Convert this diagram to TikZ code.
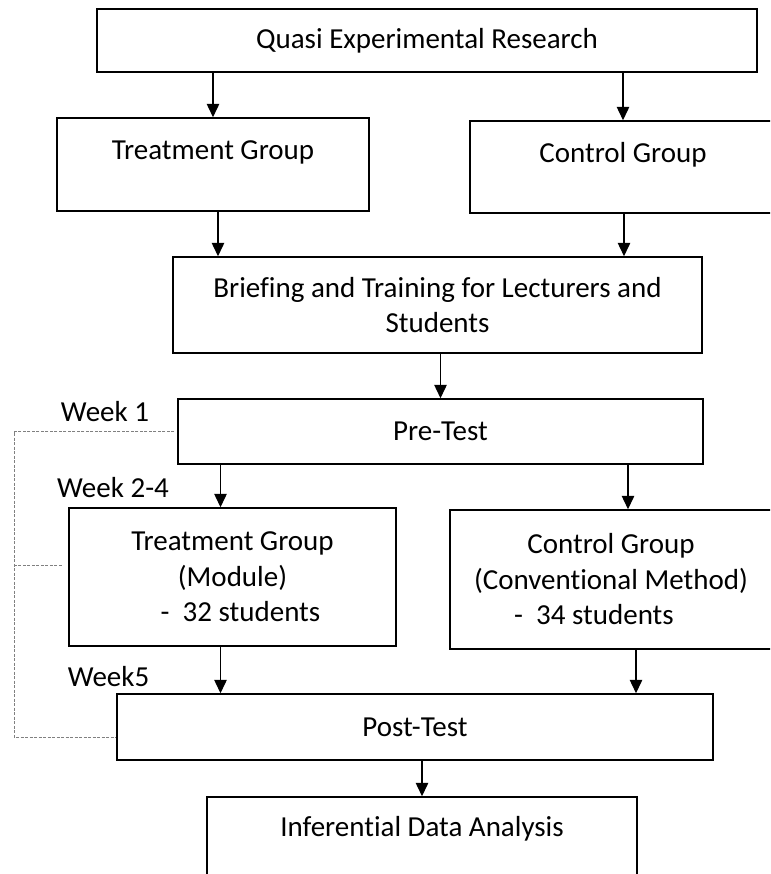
\documentclass[tikz,border=0pt]{standalone}
\usepackage{fontspec}
\setmainfont{Carlito}[Ligatures=CommonOff]
\usepackage{tikz}
\usetikzlibrary{positioning,arrows.meta,calc}

\begin{document}
\begin{tikzpicture}[x=0.02cm, y=-0.02cm, font=\fontsize{16.5}{20.2}\selectfont, box/.style={draw, line width=0.85pt, align=center, inner sep=0pt}, arrow/.style={-{Triangle[length=0.27cm, width=0.25cm]}, line width=0.8pt}, week/.style={inner sep=0pt}, dashline/.style={gray, line width=0.5pt, dash pattern=on 0.06cm off 0.03cm}]
        \clip (0,0) rectangle (770,874);
        \node[box, minimum width=13.2cm, minimum height=1.26cm] (quasi) at (427,40.5) {Quasi Experimental Research};
        \node[box, minimum width=6.24cm, minimum height=1.86cm] (treat1) at (213,164.5) {Treatment Group\\[-0.36cm] \strut};
        \node[box, minimum width=6.12cm, minimum height=1.84cm] (ctrl1) at (623,167) {Control Group\\[-0.36cm] \strut};
        \node[box, minimum width=10.58cm, minimum height=1.92cm] (brief) at (437.5,305) {Briefing and Training for Lecturers and\\ Students};
        \node[box, minimum width=10.5cm, minimum height=1.3cm] (pre) at (440.5,431.5) {Pre-Test};
        \node[box, minimum width=6.54cm, minimum height=2.76cm] (treat2) at (232.5,577) {Treatment Group\\ (Module)\\ \hspace*{0.32cm}-~~32 students};
        \node[box, minimum width=6.44cm, minimum height=2.78cm] (ctrl2) at (611,579.5) {Control Group\\ (Conventional Method)\\ \hspace*{-0.68cm}-~~34 students};
        \node[box, minimum width=11.92cm, minimum height=1.32cm] (post) at (415,727) {Post-Test};
        \node[box, minimum width=8.6cm, minimum height=1.9cm] (infer) at (422,844.5) {Inferential Data Analysis\\[-0.2cm] \strut};
        \node[week] (week1) at (105,412) {Week 1};
        \node[week] (week2) at (113,488) {Week 2-4};
        \node[week] (week5) at (108.5,677) {Week5};
        \coordinate (rail) at (14,0);
        \draw[arrow] (quasi.south -| treat1.north) -- (treat1.north);
        \draw[arrow] (quasi.south -| ctrl1.north) -- (ctrl1.north);
        \draw[arrow] ($(treat1.south)+(5,0)$) -- ($(treat1.south |- brief.north)+(5,0)$);
        \draw[arrow] ($(ctrl1.south)+(1,0)$) -- ($(ctrl1.south |- brief.north)+(1,0)$);
        \draw[arrow] (brief.south -| pre.north) -- (pre.north);
        \draw[arrow] ($(treat2.north |- pre.south)+(-12,0)$) -- ($(treat2.north)+(-12,0)$);
        \draw[arrow] ($(ctrl2.north |- pre.south)+(17,0)$) -- ($(ctrl2.north)+(17,0)$);
        \draw[arrow] ($(treat2.south)+(-12,0)$) -- ($(treat2.south |- post.north)+(-12,0)$);
        \draw[arrow] ($(ctrl2.south)+(25,0)$) -- ($(ctrl2.south |- post.north)+(25,0)$);
        \draw[arrow] (post.south -| infer.north) -- (infer.north);
        \draw[dashline] ($(pre.west)+(-3,0)$) -- (pre.west -| rail) -- ($(post.west -| rail)+(0,10)$) -- ($(post.west)+(0,10)$);
        \draw[dashline] ($(treat2.west -| rail)+(0,-12)$) -- ($(treat2.west)+(-6,-12)$);
    \end{tikzpicture}
\end{document}
